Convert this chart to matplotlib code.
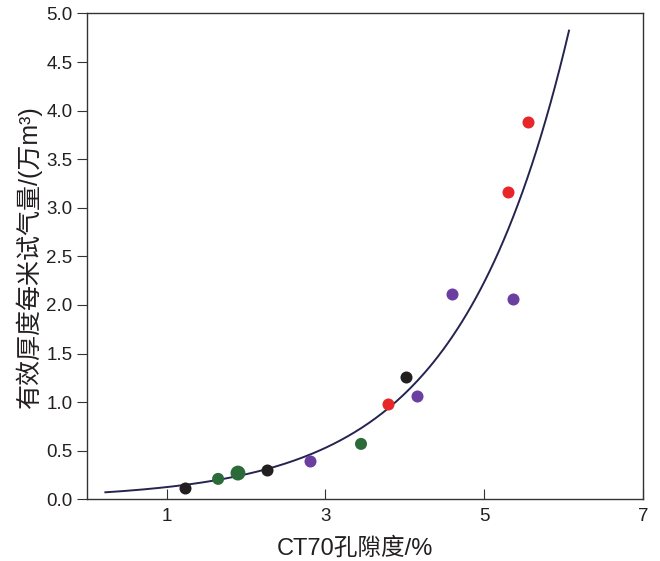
import numpy as np
import matplotlib
matplotlib.use('Agg')
import matplotlib.pyplot as plt

plt.rcParams['font.family'] = ['Liberation Sans', 'Noto Sans CJK SC', 'DejaVu Sans']

# porosity (%) and gas per metre (10^4 m3), grouped by colour
black_x = [1.23, 2.27, 4.02]
black_y = [0.12, 0.30, 1.26]
green_x = [1.65, 1.90, 3.45]
green_y = [0.21, 0.27, 0.57]
purple_x = [2.81, 4.16, 4.60, 5.37]
purple_y = [0.39, 1.06, 2.11, 2.06]
red_x = [3.79, 5.30, 5.55]
red_y = [0.98, 3.16, 3.88]

# exponential trend y = a * exp(b * x)
fit_a = 0.061
fit_b = 0.72
fit_range = (0.23, 6.07)

fig = plt.figure(figsize=(6.6, 5.61), dpi=100)
ax = fig.add_axes([0.132, 0.110, 0.842, 0.866])

xs = np.linspace(fit_range[0], fit_range[1], 200)
ax.plot(xs, fit_a * np.exp(fit_b * xs), color='#25234f', lw=1.4, zorder=2)

ax.scatter(black_x, black_y, s=75, color='#231f20', zorder=3, lw=0)
ax.scatter(green_x, green_y, s=[75, 115, 75], color='#2d6a3a', zorder=3, lw=0)
ax.scatter(purple_x, purple_y, s=75, color='#6b3fa0', zorder=3, lw=0)
ax.scatter(red_x, red_y, s=75, color='#e8262a', zorder=3, lw=0)

ax.set_xlim(0, 7)
ax.set_ylim(0, 5)
ax.set_xticks([1, 3, 5, 7])
ax.set_yticks(np.arange(0, 5.01, 0.5))
ax.set_yticklabels([f'{v:.1f}' for v in np.arange(0, 5.01, 0.5)])
ax.tick_params(axis='x', direction='in', length=7, labelsize=13.5, pad=6, color='#333333', labelcolor='#231f20')
ax.tick_params(axis='y', direction='out', length=7, labelsize=13.5, pad=3.5, color='#333333', labelcolor='#231f20')
for sp in ax.spines.values():
    sp.set_color('#333333')
    sp.set_linewidth(1.0)

ax.set_xlabel('CT70孔隙度/%', fontsize=17, color='#231f20')
ax.set_ylabel('有效厚度每米试气量/(万m³)', fontsize=18, color='#231f20')
ax.xaxis.set_label_coords(0.482, -0.078)
ax.yaxis.set_label_coords(-0.081, 0.5)

fig.savefig('out.png', dpi=100)
